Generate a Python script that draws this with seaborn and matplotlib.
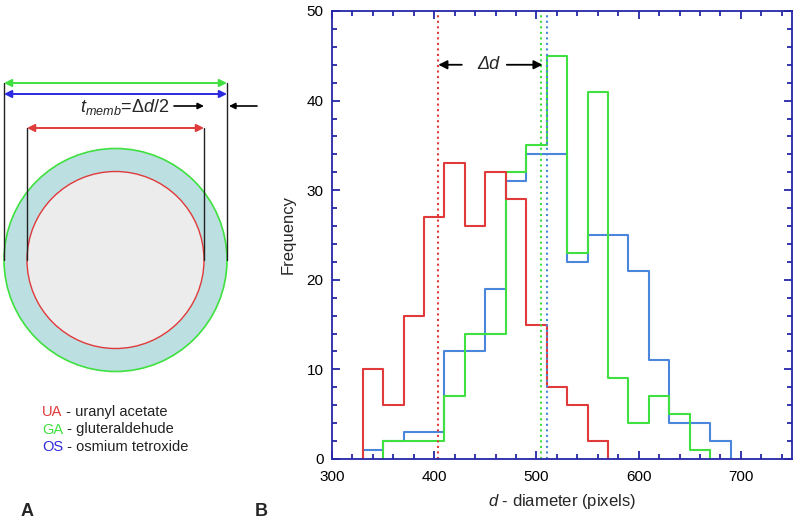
import matplotlib
matplotlib.use('Agg')
import matplotlib.pyplot as plt
from matplotlib.patches import Circle
from matplotlib.ticker import MultipleLocator
import numpy as np
import pandas as pd
import seaborn as sns

# histogram counts, 20 px wide bins
bin_width = 20
ua_start, ua_counts = 330, [10, 6, 16, 27, 33, 26, 32, 29, 15, 8, 6, 2]
ga_start, ga_counts = 350, [2, 2, 2, 7, 14, 14, 32, 35, 45, 23, 41, 9, 4, 7, 5, 1]
os_start, os_counts = 330, [1, 2, 3, 3, 12, 12, 19, 31, 34, 34, 22, 25, 25, 21, 11, 4, 4, 2]

# dotted lines (mean diameters)
ua_mean, ga_mean, os_mean = 404, 504, 510

series_names = ['UA', 'GA', 'OS']
series_labels = ['uranyl acetate', 'gluteraldehude', 'osmium tetroxide']
RED, GREEN, BLUE = '#e03a3a', '#3fe03f', '#4a86dc'
AXCOL = '#2626a8'

sns.set_style('ticks')
plt.rcParams['font.family'] = ['Liberation Sans', 'DejaVu Sans']
plt.rcParams['mathtext.fontset'] = 'custom'
plt.rcParams['mathtext.it'] = 'Liberation Sans:italic'
plt.rcParams['mathtext.rm'] = 'Liberation Sans'

fig = plt.figure(figsize=(7.97, 5.22), dpi=100)

# ---- panel A: sketch in pixel coordinates
axa = fig.add_axes([0, 0, 1, 1])
axa.set_xlim(0, 797)
axa.set_ylim(522, 0)
axa.axis('off')

cx, cy, r_out, r_in = 115.5, 260, 111.5, 88.5
axa.add_patch(Circle((cx, cy), r_out, facecolor='#bcdfe2', edgecolor=GREEN, lw=1.2))
axa.add_patch(Circle((cx, cy), r_in, facecolor='#ececec', edgecolor=RED, lw=1.0))
for x, ytop in [(cx - r_out, 83), (cx + r_out, 83), (cx - r_in, 128), (cx + r_in, 128)]:
    axa.plot([x, x], [ytop, cy], color='#222222', lw=1.0)

def dbl_arrow(x0, x1, y, c):
    axa.annotate('', xy=(x1, y), xytext=(x0, y),
                 arrowprops=dict(arrowstyle='<|-|>', color=c, lw=1.4,
                                 mutation_scale=11, shrinkA=0, shrinkB=0))

dbl_arrow(cx - r_out, cx + r_out, 83, GREEN)
dbl_arrow(cx - r_out, cx + r_out, 94, '#2a2ae0')
dbl_arrow(cx - r_in, cx + r_in, 128, RED)

axa.text(80, 107, r'$t_{memb}$=$\mathit{Δd/2}$', fontsize=13, va='center', ha='left')
axa.annotate('', xy=(204, 106), xytext=(174, 106),
             arrowprops=dict(arrowstyle='-|>', color='black', lw=1.2,
                             mutation_scale=9, shrinkA=0, shrinkB=0))
axa.annotate('', xy=(229, 106), xytext=(257, 106),
             arrowprops=dict(arrowstyle='-|>', color='black', lw=1.2,
                             mutation_scale=9, shrinkA=0, shrinkB=0))

for i, (nm, lab, c) in enumerate(zip(series_names, series_labels, [RED, GREEN, '#2a2ae0'])):
    y = 412 + i * 17.5
    t = axa.text(42, y, nm, color=c, fontsize=10.5, va='center', ha='left')
    axa.annotate(' - ' + lab, xycoords=t, xy=(1, 0.5), va='center', ha='left',
                 fontsize=10.5, color='#222222')

axa.text(27, 512, 'A', fontsize=13, fontweight='bold', ha='center', va='center')
axa.text(261, 512, 'B', fontsize=13, fontweight='bold', ha='center', va='center')

# ---- panel B: histograms
ax = fig.add_axes([332 / 797, (522 - 459) / 522, 460 / 797, 448 / 522])

def make_df(start, counts):
    left = start + bin_width * np.arange(len(counts))
    return pd.DataFrame({'d': left + bin_width / 2, 'n': counts}), start, start + bin_width * len(counts)

for (start, counts), c in [((os_start, os_counts), BLUE), ((ga_start, ga_counts), GREEN),
                           ((ua_start, ua_counts), RED)]:
    df, lo, hi = make_df(start, counts)
    sns.histplot(data=df, x='d', weights='n', binwidth=bin_width, binrange=(lo, hi),
                 element='step', fill=False, color=c, lw=1.5, ax=ax)
    ax.plot([lo, lo], [0, counts[0]], color=c, lw=1.5)
    ax.plot([hi, hi], [0, counts[-1]], color=c, lw=1.5)

for m, c in [(ua_mean, RED), (ga_mean, GREEN), (os_mean, BLUE)]:
    ax.axvline(m, color=c, ls=':', lw=1.5)

ax.annotate('', xy=(ua_mean, 44), xytext=(427, 44),
            arrowprops=dict(arrowstyle='-|>', color='black', lw=1.3,
                            mutation_scale=13, shrinkA=0, shrinkB=0))
ax.annotate('', xy=(ga_mean + 2, 44), xytext=(471, 44),
            arrowprops=dict(arrowstyle='-|>', color='black', lw=1.3,
                            mutation_scale=13, shrinkA=0, shrinkB=0))
ax.text(453, 44, 'Δd', fontsize=13, fontstyle='italic', ha='center', va='center')

ax.set_xlim(300, 750)
ax.set_ylim(0, 50)
ax.xaxis.set_major_locator(MultipleLocator(100))
ax.xaxis.set_minor_locator(MultipleLocator(20))
ax.yaxis.set_major_locator(MultipleLocator(10))
ax.yaxis.set_minor_locator(MultipleLocator(2))
ax.tick_params(which='both', direction='in', top=True, right=True, color=AXCOL,
               width=1.3, labelsize=11, labelcolor='black')
ax.tick_params(which='major', length=6)
ax.tick_params(which='minor', length=3.5)
ax.tick_params(axis='x', pad=8)
ax.tick_params(axis='y', pad=6)
for s in ax.spines.values():
    s.set_color(AXCOL)
    s.set_linewidth(1.3)
ax.set_xlabel(r'$\mathit{d}$ - diameter (pixels)', fontsize=12, labelpad=6)
ax.set_ylabel('Frequency', fontsize=12, labelpad=8)

fig.savefig('out.png', dpi=100)
